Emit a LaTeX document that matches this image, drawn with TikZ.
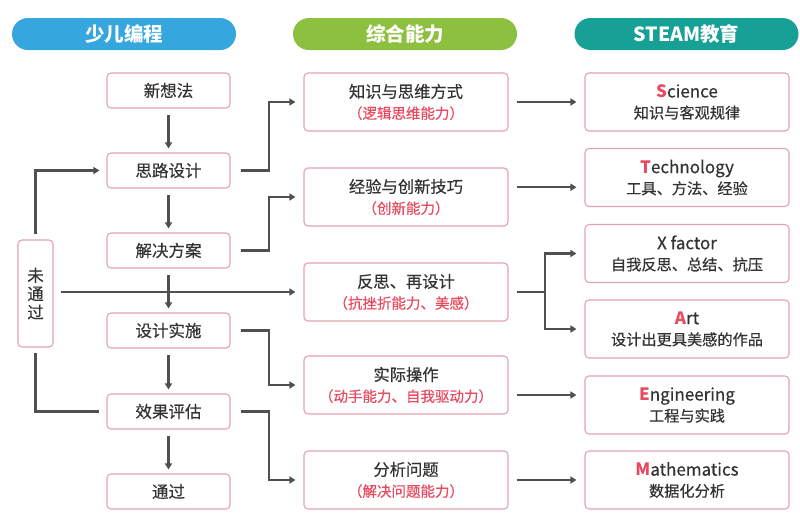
\documentclass[tikz,border=0pt]{standalone}
\usepackage{fontspec}
\setmainfont{Noto Sans CJK SC}[UprightFeatures={FakeBold=0.4}]
\usetikzlibrary{arrows.meta,calc}
\definecolor{blueh}{HTML}{35A6DE}
\definecolor{greenh}{HTML}{8DC03F}
\definecolor{tealh}{HTML}{17A096}
\definecolor{linec}{HTML}{505050}
\definecolor{boxc}{HTML}{E3A2B0}
\definecolor{redt}{HTML}{E84A5F}
\definecolor{txt}{HTML}{333333}
\begin{document}
\begin{tikzpicture}[x=1pt,y=-1pt,
  pill/.style={rounded corners=16pt, minimum width=224pt, minimum height=32pt, text=white, font=\fontsize{19.5}{23}\selectfont\bfseries, inner sep=0pt},
  box/.style={draw=boxc, line width=1.1pt, rounded corners=4pt, fill=white, inner sep=0pt, align=center, text=txt},
  lbox/.style={box, minimum width=123pt, minimum height=35pt, font=\fontsize{16.5}{20}\selectfont},
  mbox/.style={box, minimum width=204pt, minimum height=58pt, font=\fontsize{16.3}{21}\selectfont},
  rbox/.style={box, minimum width=204pt, minimum height=58pt, font=\fontsize{17}{21}\selectfont},
  arr/.style={draw=linec, line width=2.1pt, -{Triangle[length=6pt,width=7pt]}},
  plain/.style={draw=linec, line width=2.1pt}]
\useasboundingbox (0,0) rectangle (800,517);
\newcommand{\redl}[1]{\fontsize{14.5}{21}\selectfont\color{redt}#1}
\newcommand{\grayl}[1]{\fontsize{15.2}{21}\selectfont#1}
\newcommand{\ini}[1]{\textcolor{redt}{\bfseries #1}}
% headers
\node[pill, fill=blueh] (h1) at (124,34) {少儿编程};
\node[pill, fill=greenh] (h2) at (405,34) {综合能力};
\node[pill, fill=tealh] (h3) at (686.5,34) {STEAM教育};
% left column
\node[lbox] (l1) at (168.5,90.5) {新想法};
\node[lbox] (l2) at (168.5,170.5) {思路设计};
\node[lbox] (l3) at (168.5,250.5) {解决方案};
\node[lbox] (l4) at (168.5,330.5) {设计实施};
\node[lbox] (l5) at (168.5,411.5) {效果评估};
\node[lbox] (l6) at (168.5,491.5) {通过};
\node[box, minimum width=35pt, minimum height=107pt, font=\fontsize{16.5}{18.5}\selectfont] (u) at (35.5,293.5) {未\\通\\过};
% middle column
\node[mbox] (m1) at (406,102) {知识与思维方式\\\redl{（逻辑思维能力）}};
\node[mbox] (m2) at (406,197) {经验与创新技巧\\\redl{（创新能力）}};
\node[mbox] (m3) at (406,292) {反思、再设计\\\redl{（抗挫折能力、美感）}};
\node[mbox] (m4) at (406,385) {实际操作\\\redl{（动手能力、自我驱动力）}};
\node[mbox] (m5) at (406,480) {分析问题\\\redl{（解决问题能力）}};
% right column
\node[rbox] (r1) at (687,102) {\ini{S}cience\\\grayl{知识与客观规律}};
\node[rbox] (r2) at (687,177.5) {\ini{T}echnology\\\grayl{工具、方法、经验}};
\node[rbox] (r3) at (687,253.5) {X factor\\\grayl{自我反思、总结、抗压}};
\node[rbox] (r4) at (687,329) {\ini{A}rt\\\grayl{设计出更具美感的作品}};
\node[rbox] (r5) at (687,405) {\ini{E}ngineering\\\grayl{工程与实践}};
\node[rbox] (r6) at (687,480) {\ini{M}athematics\\\grayl{数据化分析}};
% vertical flow
\draw[arr] ([yshift=-6pt]l1.south) -- ([yshift=4pt]l2.north);
\draw[arr] ([yshift=-6pt]l2.south) -- ([yshift=4pt]l3.north);
\draw[arr] ([yshift=-6pt]l3.south) -- ([yshift=4pt]l4.north);
\draw[arr] ([yshift=-6pt]l4.south) -- ([yshift=4pt]l5.north);
\draw[arr] ([yshift=-6pt]l5.south) -- ([yshift=4pt]l6.north);
% left to middle
\draw[arr] ([xshift=10pt]l2.east) -- ++(28,0) |- ([xshift=-8pt]m1.west);
\draw[arr] ([xshift=10pt]l3.east) -- ++(28,0) |- ([xshift=-8pt]m2.west);
\draw[arr] ([xshift=10pt]l4.east) -- ++(28,0) |- ([xshift=-8pt]m4.west);
\draw[arr] ([xshift=10pt]l5.east) -- ++(28,0) |- ([xshift=-8pt]m5.west);
\draw[arr] ([xshift=7pt]u.east |- m3.west) -- ([xshift=-8pt]m3.west);
\draw[arr] ([yshift=5pt]u.north) |- ([xshift=-7pt]l2.west);
\draw[plain] ([yshift=-5pt]u.south) |- ([xshift=-7pt]l5.west);
% middle to right
\coordinate (t2) at ($(m2.east)!0.5!(r2.west)$);
\coordinate (t5) at ($(m4.east)!0.5!(r5.west)$);
\draw[arr] ([xshift=8pt]m1.east) -- ([xshift=-8pt]r1.west);
\draw[arr] ([xshift=8pt]m2.east |- t2) -- ([xshift=-8pt]r2.west |- t2);
\draw[plain] ([xshift=8pt]m3.east) -- ++(28,0) coordinate (br);
\draw[arr] (br) |- ([xshift=-8pt]r3.west);
\draw[arr] (br) |- ([xshift=-8pt]r4.west);
\draw[arr] ([xshift=8pt]m4.east |- t5) -- ([xshift=-8pt]r5.west |- t5);
\draw[arr] ([xshift=8pt]m5.east) -- ([xshift=-8pt]r6.west);
\end{tikzpicture}
\end{document}
